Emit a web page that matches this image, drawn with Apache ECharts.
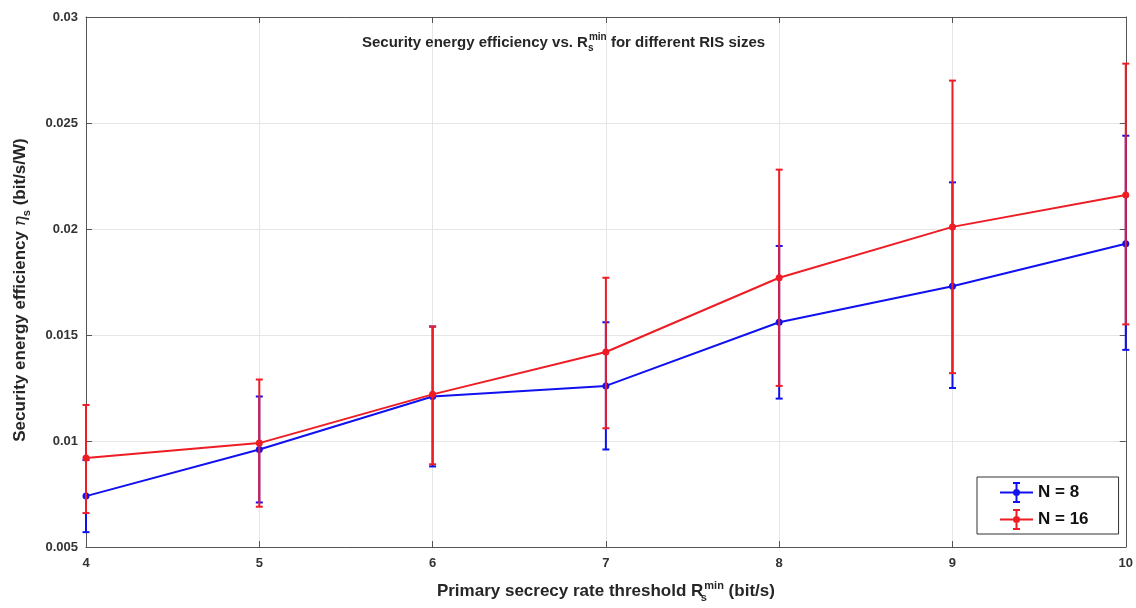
<!DOCTYPE html>
<html>
<head>
<meta charset="utf-8">
<script src="https://cdn.jsdelivr.net/npm/echarts@6/dist/echarts.min.js"></script>
<style>
html,body{margin:0;padding:0;background:#fff;}
#c{width:1136px;height:608px;}
</style>
</head>
<body>
<div id="c"></div>
<script>
const xVals = [4, 5, 6, 7, 8, 9, 10];
const n8Mean = [0.0074, 0.0096, 0.0121, 0.0126, 0.0156, 0.0173, 0.0193];
const n8Low  = [0.0057, 0.0071, 0.0088, 0.0096, 0.0120, 0.0125, 0.0143];
const n8High = [0.0091, 0.0121, 0.0154, 0.0156, 0.0192, 0.0222, 0.0244];
const n16Mean = [0.0092, 0.0099, 0.0122, 0.0142, 0.0177, 0.0201, 0.0216];
const n16Low  = [0.0066, 0.0069, 0.0089, 0.0106, 0.0126, 0.0132, 0.0155];
const n16High = [0.0117, 0.0129, 0.0154, 0.0177, 0.0228, 0.0270, 0.0278];
const seriesNames = ['N = 8', 'N = 16'];
const titleText = '{b|Security energy efficiency vs. R}{sub|s}{sup|min}{b| for different RIS sizes}';
const xLabel = '{b|Primary secrecy rate threshold R}{sub|s}{sup|min}{b| (bit/s)}';
const yLabel = '{b|Security energy efficiency }{eta|η}{subw|s}{b| (bit/s/W)}';

const BLUE = '#1010f0';
const RED = '#ee1c24';
const FONT = '"Liberation Sans", Arial, sans-serif';

function rich(size, subSize) {
  return {
    b: {fontSize: size, fontWeight: 'bold', fontFamily: FONT, color: '#262626', lineHeight: size},
    eta: {fontSize: size, fontStyle: 'italic', fontFamily: 'DejaVu Serif, serif', color: '#262626', lineHeight: size},
    sub: {fontSize: subSize, fontWeight: 'bold', fontFamily: FONT, color: '#262626', lineHeight: subSize, padding: [Math.round(size*0.7), 0, 0, 0], width: 1},
    subw: {fontSize: subSize, fontWeight: 'bold', fontFamily: FONT, color: '#262626', lineHeight: subSize, padding: [Math.round(size*0.7), 0, 0, 0]},
    sup: {fontSize: subSize, fontWeight: 'bold', fontFamily: FONT, color: '#262626', lineHeight: subSize, padding: [0, 0, Math.round(size*0.7), 0]}
  };
}

function errItem(color) {
  return function (params, api) {
    const x = api.value(0), lo = api.value(1), hi = api.value(2);
    const p1 = api.coord([x, lo]), p2 = api.coord([x, hi]);
    const w = 3.5;
    const st = {stroke: color, lineWidth: 2};
    return {type: 'group', children: [
      {type: 'line', shape: {x1: p1[0], y1: p1[1], x2: p2[0], y2: p2[1]}, style: st},
      {type: 'line', shape: {x1: p1[0]-w, y1: p1[1], x2: p1[0]+w, y2: p1[1]}, style: st},
      {type: 'line', shape: {x1: p2[0]-w, y1: p2[1], x2: p2[0]+w, y2: p2[1]}, style: st}
    ]};
  };
}

const legendIcon = 'path://M0,9.5L33,9.5L33,11.5L0,11.5Z M15.5,0L17.5,0L17.5,21L15.5,21Z M13,0L20,0L20,2L13,2Z M13,19L20,19L20,21L13,21Z M13,10.5A3.5,3.5 0 1,1 20,10.5A3.5,3.5 0 1,1 13,10.5Z';

const chart = echarts.init(document.getElementById('c'), null, {renderer: 'canvas'});
const axisLineStyle = {color: '#555', width: 1};
const yNameStyle = Object.assign({padding: [0, 16, 0, 0]}, {rich: rich(17, 11)});
const option = {
  backgroundColor: '#fff',
  animation: false,
  title: {
    text: titleText,
    left: 357, top: 30,
    textStyle: {rich: rich(15, 10)}
  },
  legend: {
    orient: 'vertical',
    left: 977, top: 477,
    padding: [5, 30, 4, 23],
    itemWidth: 33, itemHeight: 21, itemGap: 6, itemTextGap: 5,
    borderColor: '#333', borderWidth: 1, backgroundColor: '#fff',
    textStyle: {fontSize: 17, fontWeight: 'bold', fontFamily: FONT, color: '#111'},
    data: [{name: seriesNames[0], icon: legendIcon}, {name: seriesNames[1], icon: legendIcon}]
  },
  grid: {left: 86, right: 6, top: 17, bottom: 61, containLabel: false},
  xAxis: [{
    type: 'value', min: 4, max: 10, interval: 1,
    name: xLabel, nameLocation: 'middle', nameGap: 36,
    nameTextStyle: {rich: rich(17, 11)},
    axisLine: {show: true, lineStyle: axisLineStyle},
    axisTick: {show: true, inside: true, length: 6, lineStyle: axisLineStyle},
    axisLabel: {fontSize: 13, fontWeight: 'bold', fontFamily: FONT, color: '#333', margin: 10},
    splitLine: {show: true, lineStyle: {color: '#e6e6e6', width: 1}}
  }, {
    type: 'value', min: 4, max: 10, interval: 1, position: 'top',
    axisLine: {show: true, lineStyle: axisLineStyle},
    axisTick: {show: true, inside: true, length: 6, lineStyle: axisLineStyle},
    axisLabel: {show: false}, splitLine: {show: false}
  }],
  yAxis: [{
    type: 'value', min: 0.005, max: 0.03, interval: 0.005,
    name: yLabel, nameLocation: 'middle', nameGap: 57, nameRotate: 90,
    nameTextStyle: yNameStyle,
    axisLine: {show: true, lineStyle: axisLineStyle},
    axisTick: {show: true, inside: true, length: 6, lineStyle: axisLineStyle},
    axisLabel: {fontSize: 13, fontWeight: 'bold', fontFamily: FONT, color: '#333', margin: 8,
      formatter: v => String(+v.toFixed(3))},
    splitLine: {show: true, lineStyle: {color: '#e6e6e6', width: 1}}
  }, {
    type: 'value', min: 0.005, max: 0.03, interval: 0.005, position: 'right',
    axisLine: {show: true, lineStyle: axisLineStyle},
    axisTick: {show: true, inside: true, length: 6, lineStyle: axisLineStyle},
    axisLabel: {show: false}, splitLine: {show: false}
  }],
  series: [
    {
      name: 'err8', type: 'custom', renderItem: errItem(BLUE), z: 2,
      data: xVals.map((x, i) => [x, n8Low[i], n8High[i]]), silent: true
    },
    {
      name: seriesNames[0], type: 'line', z: 3, color: BLUE,
      data: xVals.map((x, i) => [x, n8Mean[i]]),
      symbol: 'circle', symbolSize: 7, lineStyle: {width: 2, color: BLUE},
      itemStyle: {color: BLUE}
    },
    {
      name: 'err16', type: 'custom', renderItem: errItem(RED), z: 4,
      data: xVals.map((x, i) => [x, n16Low[i], n16High[i]]), silent: true
    },
    {
      name: seriesNames[1], type: 'line', z: 5, color: RED,
      data: xVals.map((x, i) => [x, n16Mean[i]]),
      symbol: 'circle', symbolSize: 7, lineStyle: {width: 2, color: RED},
      itemStyle: {color: RED}
    }
  ]
};
chart.setOption(option);
</script>
</body>
</html>
